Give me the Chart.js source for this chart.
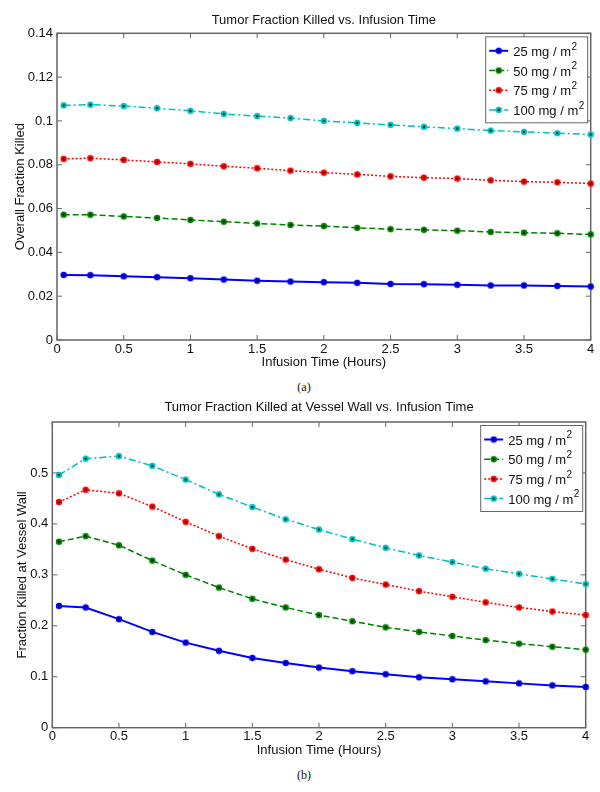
<!DOCTYPE html>
<html>
<head>
<meta charset="utf-8">
<script src="https://cdn.jsdelivr.net/npm/chart.js@4.4.0/dist/chart.umd.min.js"></script>
<style>
body{margin:0;background:#fff;width:600px;height:792px;position:relative;overflow:hidden;}
canvas{position:absolute;left:0;}
.cap{position:absolute;left:4px;width:600px;text-align:center;font-family:"Liberation Serif",serif;font-size:12px;line-height:12px;color:#111;}
</style>
</head>
<body>
<canvas id="chartA" width="600" height="372" style="top:0px"></canvas>
<div class="cap" style="top:381px">(a)</div>
<canvas id="chartB" width="600" height="366" style="top:392px"></canvas>
<div class="cap" style="top:769px">(b)</div>
<script>
//infusion times (hours) of every point
var hours = [0.05, 0.25, 0.5, 0.75, 1, 1.25, 1.5, 1.75, 2, 2.25, 2.5, 2.75, 3, 3.25, 3.5, 3.75, 4];
//legend names (the squared "2" is drawn as a superscript)
var doseNames = ['25 mg / m', '50 mg / m', '75 mg / m', '100 mg / m'];

//overall fraction killed, one array per dose
var overall25 = [0.0297, 0.0296, 0.0291, 0.0287, 0.0282, 0.0276, 0.0271, 0.0267, 0.0264, 0.0261, 0.0256, 0.0255, 0.0252, 0.0249, 0.0249, 0.0247, 0.0244];
var overall50 = [0.0572, 0.0572, 0.0564, 0.0557, 0.0548, 0.0540, 0.0532, 0.0525, 0.0520, 0.0512, 0.0506, 0.0503, 0.0499, 0.0493, 0.0490, 0.0487, 0.0482];
var overall75 = [0.0827, 0.0830, 0.0822, 0.0813, 0.0804, 0.0793, 0.0784, 0.0773, 0.0764, 0.0756, 0.0747, 0.0741, 0.0737, 0.0729, 0.0723, 0.0720, 0.0714];
var overall100 = [0.1071, 0.1074, 0.1068, 0.1058, 0.1046, 0.1032, 0.1022, 0.1013, 0.1000, 0.0991, 0.0982, 0.0973, 0.0965, 0.0956, 0.0950, 0.0944, 0.0938];

//fraction killed at vessel wall, one array per dose
var wall25 = [0.239, 0.236, 0.213, 0.188, 0.167, 0.151, 0.137, 0.127, 0.118, 0.111, 0.105, 0.099, 0.095, 0.091, 0.087, 0.083, 0.080];
var wall50 = [0.365, 0.376, 0.358, 0.328, 0.300, 0.275, 0.253, 0.236, 0.221, 0.209, 0.197, 0.188, 0.180, 0.172, 0.165, 0.159, 0.153];
var wall75 = [0.443, 0.467, 0.460, 0.434, 0.404, 0.376, 0.351, 0.330, 0.311, 0.294, 0.281, 0.268, 0.257, 0.246, 0.236, 0.228, 0.221];
var wall100 = [0.496, 0.528, 0.533, 0.514, 0.487, 0.458, 0.433, 0.409, 0.389, 0.370, 0.353, 0.338, 0.325, 0.312, 0.302, 0.292, 0.282];

//tick labels of both axes
var xTicks = [0, 0.5, 1, 1.5, 2, 2.5, 3, 3.5, 4];
var yTicksA = [0, 0.02, 0.04, 0.06, 0.08, 0.1, 0.12, 0.14];
var yTicksB = [0, 0.1, 0.2, 0.3, 0.4, 0.5];

var FONT = '"Liberation Sans", Arial, sans-serif';
var COLORS = ['#0000ff', '#008000', '#ff0000', '#00bfbf'];
var DASHES = [[], [6, 3], [2, 2], [7, 3, 2, 3]];
var WIDTHS = [2, 1.5, 1.5, 1.5];

//small canvas used as point marker: coloured dot with black centre
function makeMarker(color){
   var c = document.createElement('canvas');
   c.width = 8;
   c.height = 8;
   var g = c.getContext('2d');
   g.fillStyle = color;
   g.beginPath();
   g.arc(4, 4, 3.2, 0, 2 * Math.PI);
   g.fill();
   g.fillStyle = '#000';
   g.beginPath();
   g.arc(4, 4, 1.1, 0, 2 * Math.PI);
   g.fill();
   return c;
}

//build datasets from the value arrays
function buildDatasets(seriesList){
   var sets = [];
   for (var s = 0; s < seriesList.length; s++) {
      var pts = [];
      for (var i = 0; i < hours.length; i++) {
         pts.push({x: hours[i], y: seriesList[s][i]});
      }
      sets.push({
         label: doseNames[s],
         data: pts,
         borderColor: COLORS[s],
         borderWidth: WIDTHS[s],
         borderDash: DASHES[s],
         pointStyle: makeMarker(COLORS[s]),
         pointRadius: 3,
         tension: 0,
         clip: false
      });
   }
   return sets;
}

function fmt(v){
   return parseFloat(v.toFixed(3)).toString();
}

//matlab-like box, inward ticks, title and legend
var framePlugin = {
   id: 'frame',
   beforeDatasetsDraw: function(chart, args, opts){
      var ctx = chart.ctx, a = chart.chartArea;
      var xs = chart.scales.x, ys = chart.scales.y;
      ctx.save();
      ctx.strokeStyle = '#666';
      ctx.lineWidth = 1.5;
      ctx.strokeRect(a.left, a.top, a.right - a.left, a.bottom - a.top);
      ctx.lineWidth = 1;
      ctx.beginPath();
      xs.ticks.forEach(function(t){
         var px = xs.getPixelForValue(t.value);
         ctx.moveTo(px, a.bottom); ctx.lineTo(px, a.bottom - 5);
         ctx.moveTo(px, a.top); ctx.lineTo(px, a.top + 5);
      });
      ys.ticks.forEach(function(t){
         var py = ys.getPixelForValue(t.value);
         ctx.moveTo(a.left, py); ctx.lineTo(a.left + 5, py);
         ctx.moveTo(a.right, py); ctx.lineTo(a.right - 5, py);
      });
      ctx.stroke();
      //title centred over the axes
      ctx.fillStyle = '#111';
      ctx.font = '13px ' + FONT;
      ctx.textAlign = 'center';
      ctx.textBaseline = 'middle';
      ctx.fillText(opts.title, (a.left + a.right) / 2, opts.titleY);
      ctx.restore();
   },
   afterDraw: function(chart, args, opts){
      var ctx = chart.ctx, a = chart.chartArea;
      var lw = 102, lh = 86;
      var lx = a.right - 3 - lw, ly = a.top + 3.5;
      ctx.save();
      ctx.fillStyle = '#fff';
      ctx.fillRect(lx, ly, lw, lh);
      ctx.strokeStyle = '#666';
      ctx.lineWidth = 1;
      ctx.strokeRect(lx, ly, lw, lh);
      var sets = chart.data.datasets;
      for (var i = 0; i < sets.length; i++) {
         var y = ly + 14 + i * 19.7;
         ctx.strokeStyle = sets[i].borderColor;
         ctx.lineWidth = sets[i].borderWidth;
         ctx.setLineDash(sets[i].borderDash);
         ctx.beginPath();
         ctx.moveTo(lx + 3.5, y);
         ctx.lineTo(lx + 22.5, y);
         ctx.stroke();
         ctx.setLineDash([]);
         var m = sets[i].pointStyle;
         ctx.drawImage(m, lx + 13 - m.width / 2, y - m.height / 2);
         ctx.fillStyle = '#111';
         ctx.textAlign = 'left';
         ctx.textBaseline = 'middle';
         ctx.font = '13px ' + FONT;
         var tx = lx + 27.5;
         ctx.fillText(sets[i].label, tx, y + 1.5);
         var w = ctx.measureText(sets[i].label).width;
         ctx.font = '10px ' + FONT;
         ctx.fillText('2', tx + w + 0.5, y - 4);
      }
      ctx.restore();
   }
};

//create one chart with given layout numbers
function createChart(id, title, yLabel, series, yTicks, yMax, L){
   var ctx = document.getElementById(id).getContext('2d');
   return new Chart(ctx, {
      type: 'line',
      data: {datasets: buildDatasets(series)},
      plugins: [framePlugin],
      options: {
         responsive: false,
         animation: false,
         devicePixelRatio: 1,
         events: [],
         layout: {padding: {top: L.top, right: L.right, left: 0, bottom: 0}},
         plugins: {
            legend: {display: false},
            tooltip: {enabled: false},
            frame: {title: title, titleY: L.titleY}
         },
         scales: {
            x: {
               type: 'linear',
               min: xTicks[0],
               max: xTicks[xTicks.length - 1],
               afterFit: function(s){ s.height = L.xHeight; },
               afterBuildTicks: function(s){ s.ticks = xTicks.map(function(v){ return {value: v}; }); },
               grid: {display: false, drawTicks: false},
               border: {display: false},
               ticks: {padding: 1.2, color: '#111', font: {family: FONT, size: 13}, callback: fmt, maxRotation: 0, autoSkip: false},
               title: {display: true, text: 'Infusion Time (Hours)', color: '#111', font: {family: FONT, size: 13}, padding: {top: 0, bottom: L.xTitlePad}}
            },
            y: {
               type: 'linear',
               min: 0,
               max: yMax,
               afterFit: function(s){ s.width = L.yWidth; },
               afterBuildTicks: function(s){ s.ticks = yTicks.map(function(v){ return {value: v}; }); },
               grid: {display: false, drawTicks: false},
               border: {display: false},
               ticks: {padding: 4, color: '#111', font: {family: FONT, size: 13}, callback: fmt, autoSkip: false},
               title: {display: true, text: yLabel, color: '#111', font: {family: FONT, size: 13}, padding: {top: L.yTitlePad, bottom: 0}}
            }
         }
      }
   });
}

createChart('chartA', 'Tumor Fraction Killed vs. Infusion Time', 'Overall Fraction Killed',
   [overall25, overall50, overall75, overall100], yTicksA, 0.14,
   {top: 33.3, right: 9.3, titleY: 20, xHeight: 32, yWidth: 57, xTitlePad: 2.2, yTitlePad: 12.2});

createChart('chartB', 'Tumor Fraction Killed at Vessel Wall vs. Infusion Time', 'Fraction Killed at Vessel Wall',
   [wall25, wall50, wall75, wall100], yTicksB, 0.6,
   {top: 30, right: 14.3, titleY: 15.7, xHeight: 30.3, yWidth: 52.3, xTitlePad: 0.2, yTitlePad: 14.2});
</script>
</body>
</html>
